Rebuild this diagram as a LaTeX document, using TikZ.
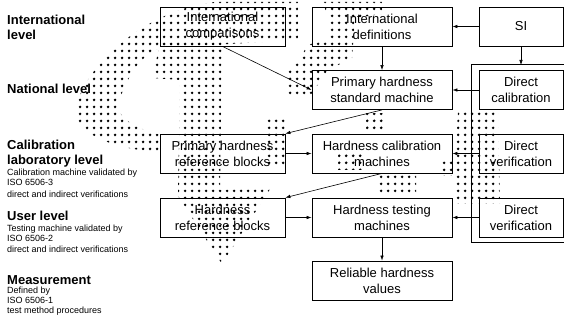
\documentclass[tikz,border=0pt]{standalone}
\usepackage{fontspec}
\setmainfont{Liberation Sans}
\usetikzlibrary{patterns,arrows.meta}
\pgfdeclarepatternformonly{bigdots}{\pgfpointorigin}{\pgfpoint{7pt}{7pt}}{\pgfpoint{7pt}{7pt}}{\pgfpathcircle{\pgfpoint{3.5pt}{3.5pt}}{1.6pt}\pgfusepath{fill}}
\begin{document}
\begin{tikzpicture}[x=1pt,y=-1pt,
  boxbase/.style={draw,line width=0.8pt,minimum height=39pt,inner sep=0pt,align=center,font=\fontsize{13}{16}\selectfont},
  boxa/.style={boxbase,minimum width=125pt},
  boxb/.style={boxbase,minimum width=140pt},
  boxc/.style={boxbase,minimum width=84pt},
  lvl/.style={anchor=base west,inner sep=0pt,font=\fontsize{13}{16}\selectfont\bfseries},
  sub/.style={anchor=base west,inner sep=0pt,font=\fontsize{9}{11}\selectfont},
  arr/.style={line width=0.6pt,-{Latex[length=5pt,width=3.5pt]}},
  dots/.style={pattern=bigdots,pattern color=black}]
\useasboundingbox (0,0) rectangle (564,320);
% halftone dotted arrows
\fill[dots] (298,2) -- (215,2) .. controls (140,10) and (75,75) .. (75,117)
  .. controls (82,135) and (115,150) .. (162,152) -- (162,135)
  .. controls (140,130) and (118,120) .. (118,105)
  .. controls (125,80) and (140,55) .. (160,48) -- (298,40) -- cycle;
\fill[dots] (160,44) -- (222,44) -- (220,190) -- (272,186) -- (222,264) -- (178,196) -- (180,80) -- (152,78) -- cycle;
\fill[dots] (264,120) -- (286,120) -- (286,168) -- (264,168) -- cycle;
\fill[dots] (323,2) -- (382,2) -- (382,14) -- (355,18) -- (352,58) -- (328,70)
  -- (310,96) -- (287,96) -- (287,72) -- (300,60) -- (307,45) -- (327,40) -- (327,15) -- cycle;
\fill[dots] (458,112) -- (498,112) -- (500,204) -- (455,204) -- (455,176) -- (442,176)
  -- (442,160) -- (455,160) -- cycle;
\fill[dots] (366,114) -- (384,114) -- (384,133) -- (366,133) -- cycle;
\fill[dots] (378,176) -- (416,176) -- (416,196) -- (378,196) -- cycle;
\fill[dots] (338,154) -- (362,154) -- (362,170) -- (338,170) -- cycle;
% boxes
\node[boxa] (icomp) at (222.5,26.5) {International\\comparisons};
\node[boxb] (idef) at (382,26.5) {International\\definitions};
\node[boxc] (si) at (521,26.5) {SI};
\node[boxb] (psm) at (382,90) {Primary hardness\\standard machine};
\node[boxc] (dcal) at (521,90) {Direct\\calibration};
\node[boxa] (prb) at (222.5,153.5) {Primary hardness\\reference blocks};
\node[boxb] (hcm) at (382,153.5) {Hardness calibration\\machines};
\node[boxc] (dv1) at (521,153.5) {Direct\\verification};
\node[boxa] (hrb) at (222.5,217.5) {Hardness\\reference blocks};
\node[boxb] (htm) at (382,217.5) {Hardness testing\\machines};
\node[boxc] (dv2) at (521,217.5) {Direct\\verification};
\node[boxb] (rhv) at (382,280.5) {Reliable hardness\\values};
% bracket
\coordinate (brtop) at (521,65);
\draw[line width=1pt] (566,65) -- (471,65) -- (471,242) -- (566,242);
% connectors
\draw[arr] (si.west) -- (idef.east);
\draw[arr] (si.south) -- (brtop);
\draw[arr] (idef.south) -- (psm.north);
\draw[arr] (icomp.south) -- (psm.west);
\draw[arr] (dcal.west) -- (psm.east);
\draw[arr] (psm.south) -- (prb.north east);
\draw[arr] (prb.east) -- (hcm.west);
\draw[arr] (dv1.west) -- (hcm.east);
\draw[arr] (hcm.south) -- (hrb.north east);
\draw[arr] (hrb.east) -- (htm.west);
\draw[arr] (dv2.west) -- (htm.east);
\draw[arr] (htm.south) -- (rhv.north);
% left texts
\node[lvl] (l1) at (7,25) {International};
\node[lvl] (l1b) at (7,40) {level};
\node[lvl] (l2) at (7,94) {National level};
\node[lvl] (l3) at (7,150) {Calibration};
\node[lvl] (l3b) at (7,165) {laboratory level};
\node[sub] (s31) at (7,175.5) {Calibration machine validated by};
\node[sub] (s32) at (7,186) {ISO 6506-3};
\node[sub] (s33) at (7,197) {direct and indirect verifications};
\node[lvl] (l4) at (7,221) {User level};
\node[sub] (s41) at (7,231) {Testing machine validated by};
\node[sub] (s42) at (7,241.5) {ISO 6506-2};
\node[sub] (s43) at (7,252) {direct and indirect verifications};
\node[lvl] (l5) at (7,284) {Measurement};
\node[sub] (s51) at (7,293.5) {Defined by};
\node[sub] (s52) at (7,303.5) {ISO 6506-1};
\node[sub] (s53) at (7,313.5) {test method procedures};
\end{tikzpicture}
\end{document}
